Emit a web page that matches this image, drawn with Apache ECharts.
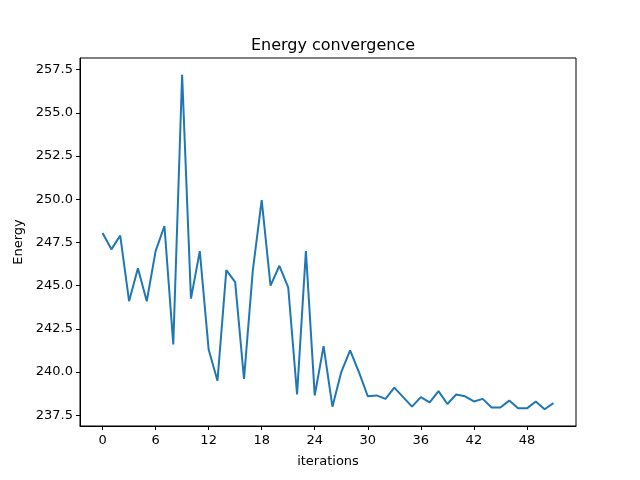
<!DOCTYPE html>
<html>
<head>
<meta charset="utf-8">
<script src="https://cdn.jsdelivr.net/npm/echarts@6/dist/echarts.min.js"></script>
<style>html,body{margin:0;padding:0;background:#fff}#c{width:640px;height:480px}</style>
</head>
<body>
<div id="c"></div>
<script>
const iterations = [0,1,2,3,4,5,6,7,8,9,10,11,12,13,14,15,16,17,18,19,20,21,22,23,24,25,26,27,28,29,30,31,32,33,34,35,36,37,38,39,40,41,42,43,44,45,46,47,48,49,50,51];
const energy = [248.05,247.1,247.9,244.1,246.0,244.1,247.0,248.45,241.6,257.2,244.25,247.0,241.3,239.5,245.9,245.2,239.6,245.9,249.95,245.0,246.15,244.9,238.7,247.0,238.65,241.5,238.0,240.0,241.25,240.0,238.6,238.65,238.45,239.1,238.55,238.0,238.55,238.25,238.9,238.15,238.7,238.6,238.3,238.45,237.95,237.95,238.35,237.9,237.9,238.3,237.85,238.2];
const xTicks = [0,6,12,18,24,30,36,42,48];
const yTicks = [237.5,240.0,242.5,245.0,247.5,250.0,252.5,255.0,257.5];
const titleText = 'Energy convergence';
const xName = 'iterations';
const yName = 'Energy';

const font = 'DejaVu Sans';
const chart = echarts.init(document.getElementById('c'), null, {renderer:'canvas'});
chart.setOption({
  animation:false,
  backgroundColor:'#fff',
  title:{text:titleText,left:328,top:33,textAlign:'center',textStyle:{fontFamily:font,fontSize:16,fontWeight:'normal',color:'#000'}},
  grid:{left:80,right:64,top:58,bottom:54,show:true,borderColor:'#000',borderWidth:1,backgroundColor:'transparent'},
  xAxis:{type:'value',min:-2.55,max:53.55,name:xName,nameLocation:'middle',nameGap:29,
    nameTextStyle:{fontFamily:font,fontSize:13,color:'#000'},
    axisLine:{show:true,onZero:false,lineStyle:{color:'#000',width:1}},
    axisTick:{show:true,length:4,customValues:xTicks,lineStyle:{color:'#000'}},
    axisLabel:{customValues:xTicks,fontFamily:font,fontSize:13,color:'#000',margin:8},
    splitLine:{show:false}},
  yAxis:{type:'value',min:236.88,max:258.17,name:yName,nameLocation:'middle',nameGap:54,nameRotate:90,
    nameTextStyle:{fontFamily:font,fontSize:13,color:'#000'},
    axisLine:{show:true,onZero:false,lineStyle:{color:'#000',width:1}},
    axisTick:{show:true,length:4,customValues:yTicks,lineStyle:{color:'#000'}},
    axisLabel:{customValues:yTicks,fontFamily:font,fontSize:13,color:'#000',margin:7,formatter:v=>v.toFixed(1)},
    splitLine:{show:false}},
  series:[{type:'line',data:iterations.map((x,i)=>[x,energy[i]]),showSymbol:false,symbol:'none',
    lineStyle:{color:'#1f77b4',width:2},clip:false}]
});
</script>
</body>
</html>
